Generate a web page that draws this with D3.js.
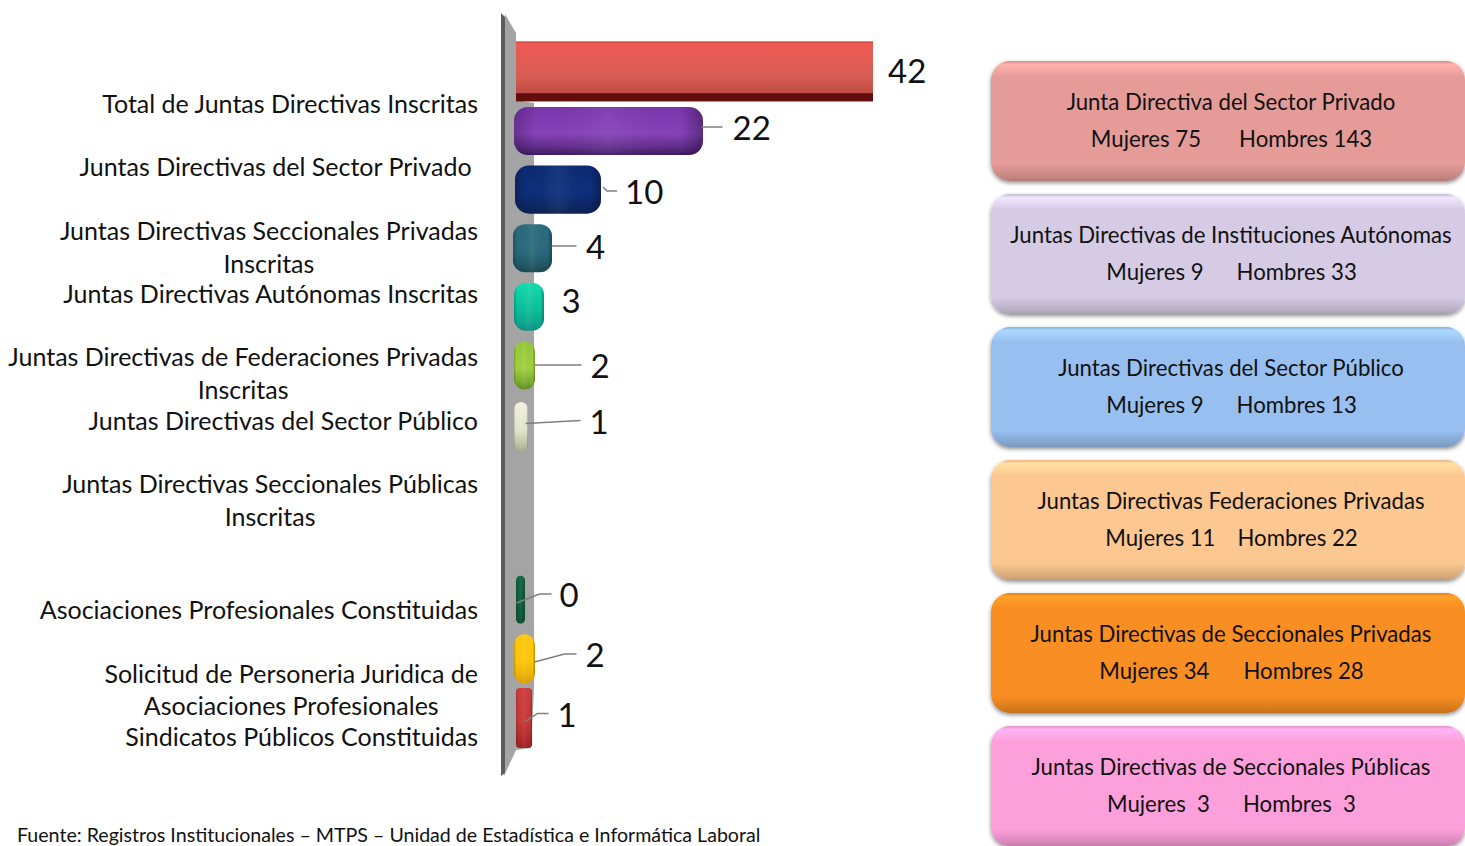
<!DOCTYPE html>
<html lang="es"><head><meta charset="utf-8">
<script src="https://cdn.jsdelivr.net/npm/d3@7"></script>
<style>
html,body{margin:0;padding:0;background:#fff;overflow:hidden}
svg{display:block}
text{font-family:Lato,"Open Sans",sans-serif;fill:#111;white-space:pre}
</style></head><body>
<svg id="chart" width="1465" height="846"></svg>
<script>
// ---- data ----
const categories = [
  ["Total de Juntas Directivas Inscritas"],
  ["Juntas Directivas del Sector Privado "],
  ["Juntas Directivas Seccionales Privadas","Inscritas"],
  ["Juntas Directivas Autónomas Inscritas"],
  ["Juntas Directivas de Federaciones Privadas","Inscritas"],
  ["Juntas Directivas del Sector Público"],
  ["Juntas Directivas Seccionales Públicas","Inscritas"],
  ["Asociaciones Profesionales Constituidas"],
  ["Solicitud de Personeria Juridica de","Asociaciones Profesionales"],
  ["Sindicatos Públicos Constituidas"]
];
const values = [42,22,10,4,3,2,1,0,2,1];
const boxTitles = [
  "Junta Directiva del Sector Privado",
  "Juntas Directivas de Instituciones Autónomas",
  "Juntas Directivas del Sector Público",
  "Juntas Directivas Federaciones Privadas",
  "Juntas Directivas de Seccionales Privadas",
  "Juntas Directivas de Seccionales Públicas"
];
const mujeres = [75,9,9,11,34,3];
const hombres = [143,33,13,22,28,3];
const source = "Fuente: Registros Institucionales – MTPS – Unidad de Estadística e Informática Laboral";

// ---- layout and style (no data) ----
const barSlot = [0,1,2,3,4,5,6,9,10,11];
const labelSlot = [0,1,2,3,4,5,6,8,9,10];
const barColors = [
  ["#ef5a52","#d65c52","#5a0c08"],["#7a34ae","#8742b8","#3f1a60"],["#0a2a72","#0c2f7c","#0a1f4e"],
  ["#2b6c7e","#2a6b7c","#18474f"],["#12dcae","#0cc09c","#0a8f80"],["#92c93a","#a2d040","#5c8c22"],
  ["#f2f3e2","#e4e8cc","#a0a688"],["#0f6440","#0d5c3c","#0a4a34"],["#ffc90c","#ffc60a","#dd9f00"],["#cf3c3c","#c83838","#a01f20"]
];
const barExtra = [0,0,0,2,2.5,2,3.5,9,2,7.5];      // visible end cap beyond the value
const barStart = [516,514,515,513,514,514,514,516,514,516];
const barRx = [0,14,14,12,12,10,7,5,11,4];
const barGrow = [[-7,12],[0,0],[0,0],[0,0],[0,0],[0,0],[2,2],[0,0],[0,1],[-5,12]]; // perspective: top shift, extra height
const boxColors = ["#e59c99","#d6cbe5","#97bff0","#fcc791","#f98e22","#fd9fdb"];
const boxGap = [38,33,33,22,34,33];
const boxSpaces = [" "," "," "," "," ","  "];
const valueDx = [15,29.5,24,34,17.5,55.5,61.5,34.5,50.5,25.5];
const valueDy = [-1.4,-3,2.4,-1.2,-5.8,.6,-1.5,-4.8,-3.4,-1.5];
const leaders = [
  null,
  [[-31,-1],[-10,-1]],
  [[-22,-5],[-18,-1],[-8,-1]],
  [[-34.5,-1],[-9.5,-1]],
  null,
  [[-56,-1],[-9,-1]],
  [[-64,1],[-9,-2]],
  [[-43,8],[-20,-1],[-8,-1]],
  [[-51,7],[-21,-1],[-9,-1]],
  [[-32,6],[-20,-2],[-9,-2]]
];

const svg = d3.select("#chart");
const defs = svg.append("defs");
const soft = defs.append("filter").attr("id","soft").attr("x","-10%").attr("y","-10%").attr("width","120%").attr("height","120%");
soft.append("feGaussianBlur").attr("stdDeviation",0.7);
const shadow = defs.append("filter").attr("id","shadow").attr("x","-5%").attr("y","-10%").attr("width","110%").attr("height","125%");
shadow.append("feDropShadow").attr("dx",0).attr("dy",2).attr("stdDeviation",2.2).attr("flood-color","#000").attr("flood-opacity",0.45);

const x = d3.scaleLinear().domain([0,42]).range([516,873]);
const y = d3.scaleBand().domain(d3.range(12)).range([48.4,741]).paddingInner(0.18).paddingOuter(0);
const labelY = d3.scalePoint().domain(d3.range(11)).range([104.5,737.5]);

// wall
svg.append("polygon").attr("points","505,14 516,33 516,100 534,103 534,690 531,748 516,750 504,776")
  .attr("fill","#a4a4a4").attr("filter","url(#soft)");
svg.append("polygon").attr("points","501,13 505,17 505,773 501,776")
  .attr("fill","#5c5c5c").attr("filter","url(#soft)");

// bars
const gEnd = defs.append("linearGradient").attr("id","endShade");
[[0,"#000",0.22],[0.12,"#000",0],[0.5,"#fff",0.06],[0.88,"#000",0],[1,"#000",0.3]].forEach(s=>
  gEnd.append("stop").attr("offset",s[0]).attr("stop-color",s[1]).attr("stop-opacity",s[2]));
values.forEach((v,i)=>{
  const g = defs.append("linearGradient").attr("id","bar"+i).attr("x1",0).attr("x2",0).attr("y1",0).attr("y2",1);
  const c = barColors[i];
  const stops = i===0
    ? [[0,"#b23c36"],[0.03,c[0]],[0.6,c[1]],[0.86,"#c04c44"],[0.87,c[2]],[1,"#6a1010"]]
    : [[0,c[0]],[0.55,c[1]],[0.85,d3.interpolateRgb(c[1],c[2])(0.55)],[1,c[2]]];
  stops.forEach(s=>g.append("stop").attr("offset",s[0]).attr("stop-color",s[1]));
});
const bars = svg.append("g").attr("filter","url(#soft)");
const barRect = d => ({
  x: barStart[d],
  y: y(barSlot[d]) + barGrow[d][0],
  w: x(values[d]) + barExtra[d] - barStart[d],
  h: y.bandwidth() + barGrow[d][1]
});
bars.selectAll("rect.bar").data(d3.range(values.length)).join("rect").attr("class","bar")
  .attr("x",d=>barRect(d).x).attr("y",d=>barRect(d).y).attr("width",d=>barRect(d).w).attr("height",d=>barRect(d).h)
  .attr("rx",d=>barRx[d]).attr("fill",d=>`url(#bar${d})`);
bars.selectAll("rect.shade").data(d3.range(values.length).filter(i=>i>0)).join("rect").attr("class","shade")
  .attr("x",d=>barRect(d).x).attr("y",d=>barRect(d).y).attr("width",d=>barRect(d).w).attr("height",d=>barRect(d).h)
  .attr("rx",d=>barRx[d]).attr("fill","url(#endShade)");

// value labels and leaders
const center = i => y(barSlot[i]) + y.bandwidth()/2;
const vx = i => x(values[i]) + barExtra[i] + valueDx[i];
const vy = i => center(i) + valueDy[i];
const line = d3.line();
leaders.forEach((l,i)=>{
  if(!l) return;
  svg.append("path").attr("d",line(l.map(p=>[vx(i)+p[0],vy(i)+p[1]])))
    .attr("fill","none").attr("stroke","#7f7f7f").attr("stroke-width",1.5);
});
svg.selectAll("text.val").data(values).join("text").attr("class","val")
  .attr("x",(d,i)=>vx(i)).attr("y",(d,i)=>vy(i)).attr("dy","0.36em")
  .attr("font-size",33).text(d=>d);

// category labels
categories.forEach((lines,i)=>{
  const t = svg.append("g");
  const top = labelY(labelSlot[i]);
  const els = lines.map((s,k)=>t.append("text").attr("y",top+k*(i===8?32:33)).attr("dy","0.34em").attr("font-size",25).attr("text-anchor","middle").text(s));
  const w = d3.max(els,e=>e.node().getComputedTextLength());
  els.forEach(e=>e.attr("x",478-w/2));
});

// source note
svg.append("text").attr("x",17).attr("y",842).attr("font-size",19.6).text(source);

// boxes
const boxY = d3.scalePoint().domain(d3.range(6)).range([61,726]);
boxColors.forEach((c,i)=>{
  const g = defs.append("linearGradient").attr("id","box"+i).attr("x1",0).attr("x2",0).attr("y1",0).attr("y2",1);
  const C = d3.color(c);
  [[0,C.darker(0.25)],[0.03,C.brighter(0.35)],[0.13,C],[0.86,C],[0.97,C.darker(0.45)],[1,C.darker(0.7)]]
    .forEach(s=>g.append("stop").attr("offset",s[0]).attr("stop-color",s[1]));
  const top = boxY(i);
  svg.append("rect").attr("x",991).attr("y",top).attr("width",474).attr("height",120).attr("rx",19)
    .attr("fill",`url(#box${i})`).attr("filter","url(#shadow)");
  svg.append("text").attr("x",1231).attr("y",top+41.5).attr("dy","0.34em").attr("text-anchor","middle")
    .attr("font-size",22.2).text(boxTitles[i]);
  const t = svg.append("text").attr("x",1231.5).attr("y",top+78.5).attr("dy","0.34em").attr("text-anchor","middle").attr("font-size",22.2);
  t.append("tspan").text(`Mujeres${boxSpaces[i]}${mujeres[i]}`);
  t.append("tspan").attr("dx",boxGap[i]).text(`Hombres${boxSpaces[i]}${hombres[i]}`);
});
</script>
</body></html>
